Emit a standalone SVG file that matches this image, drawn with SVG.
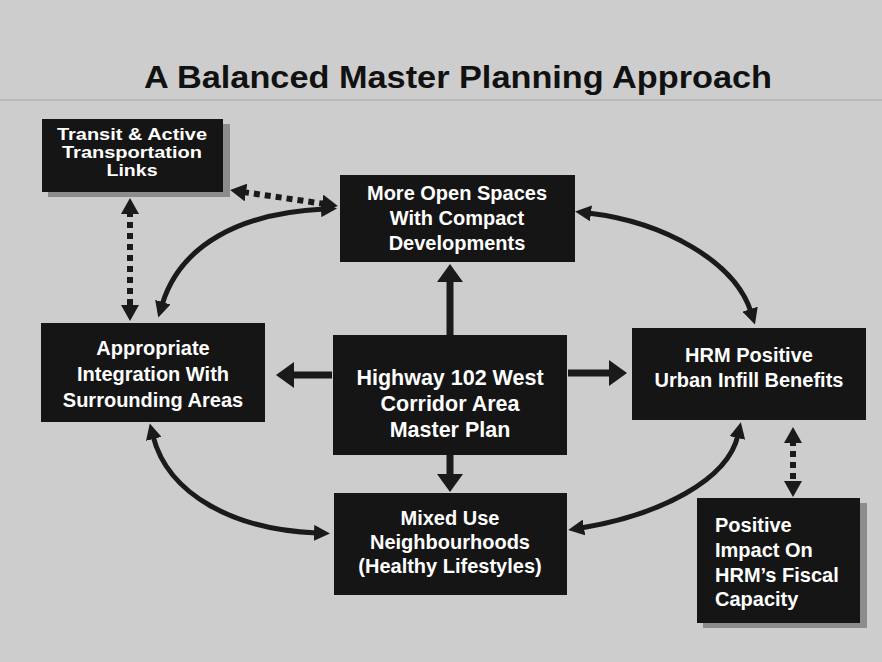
<svg xmlns="http://www.w3.org/2000/svg" width="882" height="662" viewBox="0 0 882 662">
  <style>
    .box { fill: #151515; }
    .shadow { fill: #8c8c8c; }
    .t { font-family: "Liberation Sans", Arial, sans-serif; font-weight: bold; fill: #ffffff; font-size: 20px; text-anchor: middle; }
    .ts { font-size: 16px; }
    .title { font-family: "Liberation Sans", Arial, sans-serif; font-weight: bold; fill: #111111; font-size: 32px; text-anchor: middle; }
    .curve { fill: none; stroke: #1a1a1a; stroke-width: 5; marker-start: url(#ah); marker-end: url(#ah); }
    .dot { fill: none; stroke: #1a1a1a; stroke-width: 6; stroke-dasharray: 6 5; marker-start: url(#dh); marker-end: url(#dh); }
    .solid { fill: none; stroke: #1a1a1a; stroke-width: 7; marker-end: url(#bh); }
  </style>
  <defs>
    <marker id="ah" viewBox="0 0 16 16" refX="3" refY="8" markerWidth="16" markerHeight="16" markerUnits="userSpaceOnUse" orient="auto-start-reverse">
      <path d="M0,0 L16,8 L0,16 z" fill="#1a1a1a"/>
    </marker>
    <marker id="dh" viewBox="0 0 16 18" refX="3" refY="9" markerWidth="16" markerHeight="18" markerUnits="userSpaceOnUse" orient="auto-start-reverse">
      <path d="M0,0 L16,9 L0,18 z" fill="#1a1a1a"/>
    </marker>
    <marker id="bh" viewBox="0 0 18 26" refX="2" refY="13" markerWidth="18" markerHeight="26" markerUnits="userSpaceOnUse" orient="auto">
      <path d="M0,0 L18,13 L0,26 z" fill="#1a1a1a"/>
    </marker>
  </defs>

  <rect x="0" y="0" width="882" height="662" fill="#cdcdcd"/>
  <line x1="0" y1="100" x2="882" y2="100" stroke="#b3b3b3" stroke-width="1.5"/>
  <text class="title" x="458" y="88" textLength="628" lengthAdjust="spacingAndGlyphs">A Balanced Master Planning Approach</text>

  <g id="connectors">
    <path class="curve" d="M162,305 C180,245 240,213 324,209"/>
    <path class="curve" d="M588,213 C665,222 735,262 751,312"/>
    <path class="curve" d="M153,436 C168,495 235,530 317,533"/>
    <path class="curve" d="M581,528 C660,515 728,480 738,435"/>
    <path class="dot" d="M243,192 L325,204"/>
    <path class="dot" d="M130,211 L130,308"/>
    <path class="dot" d="M793,440 L793,484"/>
    <path class="solid" d="M450,335 L450,280"/>
    <path class="solid" d="M332,375 L292,375"/>
    <path class="solid" d="M568,373 L611,373"/>
    <path class="solid" d="M450,455 L450,476"/>
  </g>

  <g id="transit">
    <rect class="shadow" x="48" y="124" width="182" height="73"/>
    <rect class="box" x="42" y="119" width="181" height="73"/>
    <text class="t ts" x="132" y="140" textLength="150" lengthAdjust="spacingAndGlyphs">Transit &amp; Active</text>
    <text class="t ts" x="132" y="158" textLength="140" lengthAdjust="spacingAndGlyphs">Transportation</text>
    <text class="t ts" x="132" y="176" textLength="51" lengthAdjust="spacingAndGlyphs">Links</text>
  </g>

  <g id="openspaces">
    <rect class="box" x="340" y="175" width="235" height="87"/>
    <text class="t" x="457" y="200">More Open Spaces</text>
    <text class="t" x="457" y="225">With Compact</text>
    <text class="t" x="457" y="250">Developments</text>
  </g>

  <g id="appropriate">
    <rect class="box" x="41" y="323" width="224" height="99"/>
    <text class="t" x="153" y="355">Appropriate</text>
    <text class="t" x="153" y="381">Integration With</text>
    <text class="t" x="153" y="407">Surrounding Areas</text>
  </g>

  <g id="highway">
    <rect class="box" x="333" y="335" width="234" height="120"/>
    <text class="t" x="450" y="385" style="font-size:21.5px">Highway 102 West</text>
    <text class="t" x="450" y="411" style="font-size:21.5px">Corridor Area</text>
    <text class="t" x="450" y="437" style="font-size:21.5px">Master Plan</text>
  </g>

  <g id="hrm">
    <rect class="box" x="632" y="328" width="234" height="92"/>
    <text class="t" x="749" y="362">HRM Positive</text>
    <text class="t" x="749" y="387">Urban Infill Benefits</text>
  </g>

  <g id="mixeduse">
    <rect class="box" x="334" y="493" width="233" height="102"/>
    <text class="t" x="450" y="525">Mixed Use</text>
    <text class="t" x="450" y="549">Neighbourhoods</text>
    <text class="t" x="450" y="573">(Healthy Lifestyles)</text>
  </g>

  <g id="fiscal">
    <rect class="shadow" x="703" y="503" width="164" height="125"/>
    <rect class="box" x="697" y="498" width="163" height="125"/>
    <text class="t" x="715" y="532" style="text-anchor:start">Positive</text>
    <text class="t" x="715" y="557" style="text-anchor:start">Impact On</text>
    <text class="t" x="715" y="582" style="text-anchor:start">HRM’s Fiscal</text>
    <text class="t" x="715" y="606" style="text-anchor:start">Capacity</text>
  </g>
</svg>
